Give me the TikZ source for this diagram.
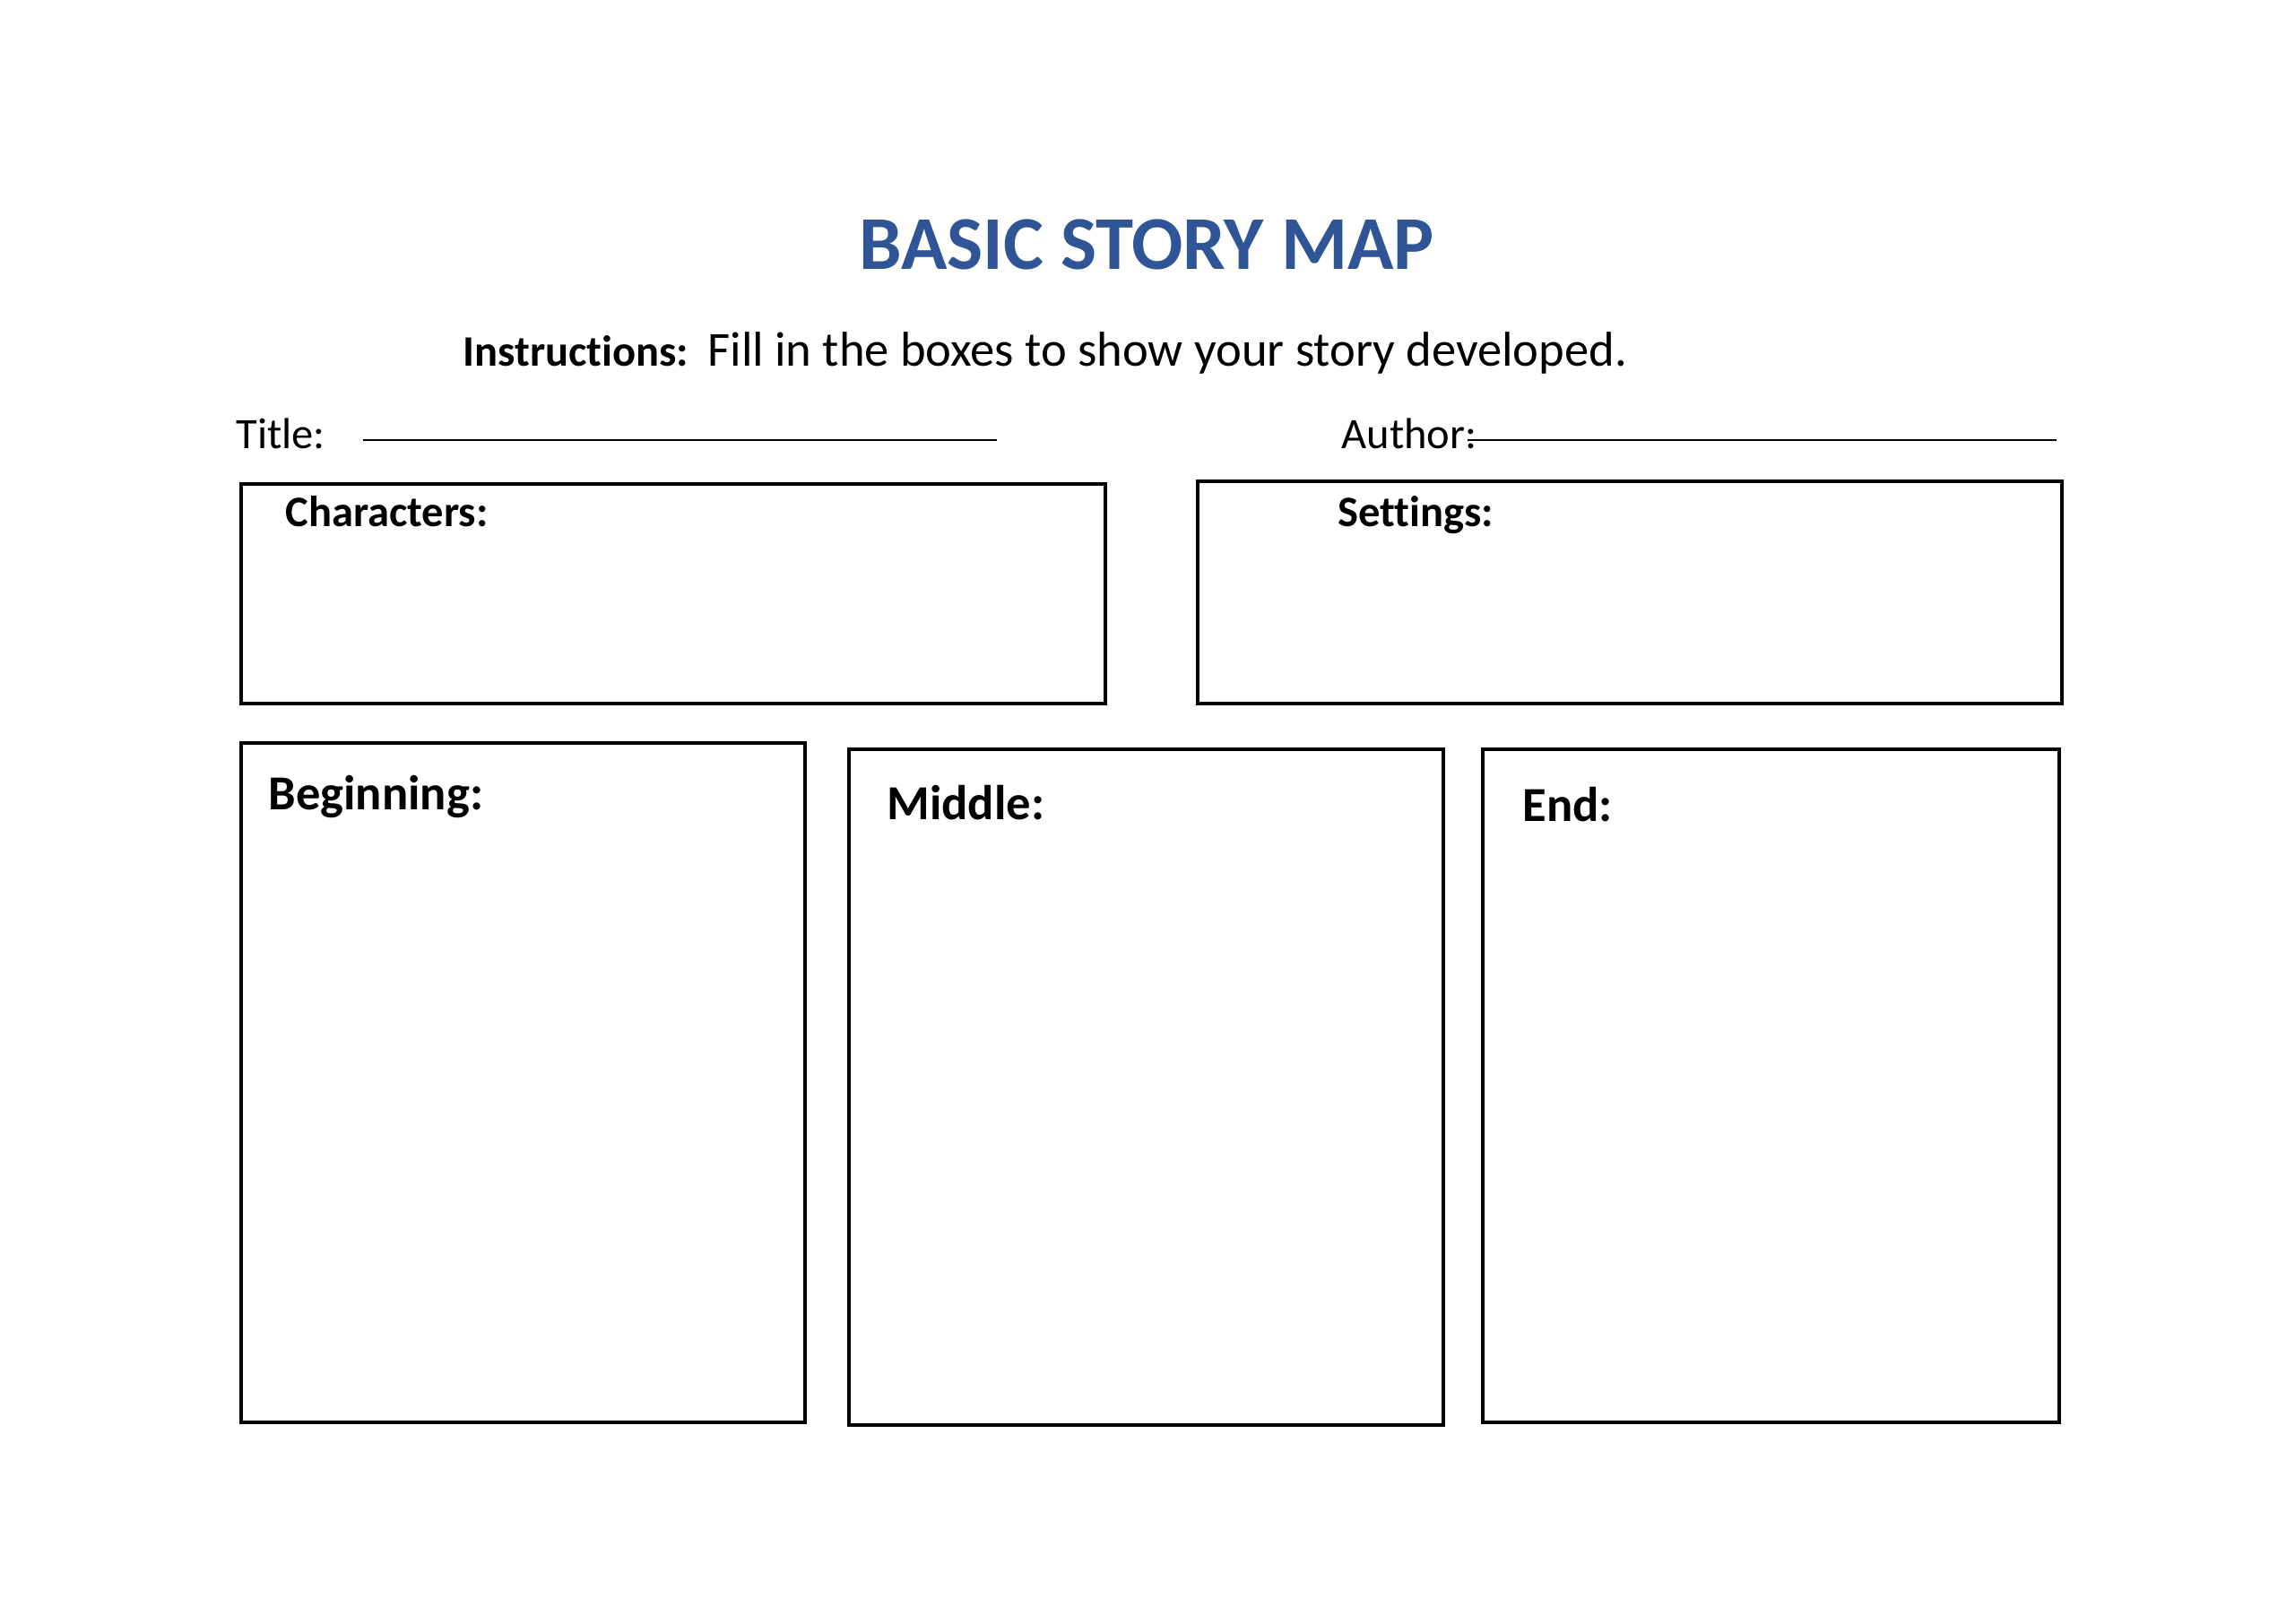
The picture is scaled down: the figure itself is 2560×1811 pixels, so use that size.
\documentclass[tikz,border=0pt]{standalone}
\usepackage{fontspec}
\setmainfont{Carlito}[Ligatures=NoCommon]
\definecolor{storyblue}{RGB}{47,85,151}
\tikzset{
  box/.style={draw=black, line width=1.2pt},
  rule/.style={draw=black, line width=0.7pt},
  plain/.style={anchor=base west, inner sep=0pt, font=\fontsize{16}{19}\selectfont},
  boxlabel/.style={anchor=base west, inner sep=0pt, font=\fontsize{16}{19}\selectfont\bfseries},
  partlabel/.style={anchor=base west, inner sep=0pt, font=\fontsize{18}{22}\selectfont\bfseries},
}
\begin{document}
\begin{tikzpicture}[x=0.116mm, y=-0.116mm]
  \useasboundingbox (0,0) rectangle (2560,1811);
  % heading
  \node[anchor=base, inner sep=0pt, text=storyblue, font=\fontsize{28}{34}\selectfont\bfseries] (maptitle) at (1279,300) {BASIC STORY MAP};
  \node[boxlabel] (instr) at (516,408) {Instructions:};
  \node[plain, font=\fontsize{18}{22}\selectfont] (fillin) at (789,408) {Fill in the boxes to show your story developed.};
  % title and author lines
  \node[plain] (titlelbl) at (263,500) {Title:};
  \coordinate (titlestart) at (405,491);
  \coordinate (titleend) at (1112,491);
  \draw[rule] (titlestart) -- (titleend);
  \node[plain] (authorlbl) at (1496,500) {Author:};
  \coordinate (authorstart) at (1637,491);
  \coordinate (authorend) at (2294,491);
  \draw[rule] (authorstart) -- (authorend);
  % top boxes
  \draw[box] (269,540) rectangle (1233,785);
  \node[boxlabel] (chars) at (318,587) {Characters:};
  \draw[box] (1336,537) rectangle (2300,785);
  \node[boxlabel] (settings) at (1492,587) {Settings:};
  % bottom boxes
  \draw[box] (269,829) rectangle (898,1587);
  \node[partlabel] (beginning) at (299,903) {Beginning:};
  \draw[box] (947,836) rectangle (1610,1590);
  \node[partlabel] (middle) at (989,914) {Middle:};
  \draw[box] (1654,836) rectangle (2297,1587);
  \node[partlabel] (ending) at (1698,916) {End:};
\end{tikzpicture}
\end{document}
